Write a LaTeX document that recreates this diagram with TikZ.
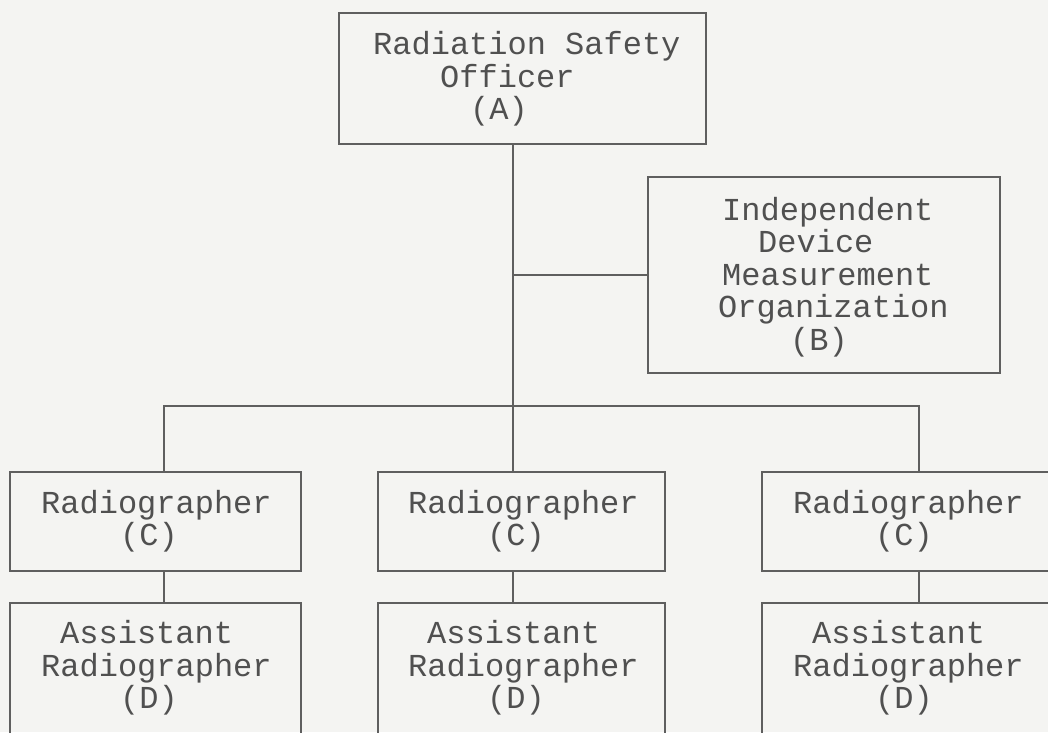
\documentclass[tikz,border=0pt]{standalone}
\usepackage{fontspec}
\setmonofont{Liberation Mono}
\definecolor{bgc}{RGB}{244,244,242}
\definecolor{linec}{RGB}{95,95,95}
\definecolor{textc}{RGB}{80,80,80}
\begin{document}
\begin{tikzpicture}[x=1pt,y=-1pt,
  box/.style={draw=linec, line width=1.2pt, rectangle, inner sep=0pt},
  txt/.style={font=\ttfamily\fontsize{32}{32.5}\selectfont, text=textc, align=left, inner sep=0pt, anchor=west},
  link/.style={draw=linec, line width=1.2pt}]
\fill[bgc] (0,0) rectangle (1048,732);
\useasboundingbox (0,0) rectangle (1048,732);
% boxes
\node[box, minimum width=367pt, minimum height=131pt] (A) at (522.5,78.5) {};
\node[box, minimum width=352pt, minimum height=196pt] (B) at (824,275) {};
\node[box, minimum width=291pt, minimum height=99pt] (C1) at (155.5,521.5) {};
\node[box, minimum width=287pt, minimum height=99pt] (C2) at (521.5,521.5) {};
\node[box, minimum width=291pt, minimum height=99pt] (C3) at (907.5,521.5) {};
\node[box, minimum width=291pt, minimum height=132pt] (D1) at (155.5,669) {};
\node[box, minimum width=287pt, minimum height=132pt] (D2) at (521.5,669) {};
\node[box, minimum width=291pt, minimum height=132pt] (D3) at (907.5,669) {};
% texts
\node[txt] (At) at (373,79) {Radiation Safety\\\hspace*{67pt}Officer\\\hspace*{97pt}(A)};
\node[txt] (Bt) at (718,277) {\hspace*{4pt}Independent\\\hspace*{40pt}Device\\\hspace*{4pt}Measurement\\Organization\\\hspace*{72pt}(B)};
\node[txt] (C1t) at (41,521) {Radiographer\\\hspace*{79pt}(C)};
\node[txt] (C2t) at (408,521) {Radiographer\\\hspace*{79pt}(C)};
\node[txt] (C3t) at (793,521) {Radiographer\\\hspace*{82pt}(C)};
\node[txt] (D1t) at (41,668) {\hspace*{19pt}Assistant\\Radiographer\\\hspace*{79pt}(D)};
\node[txt] (D2t) at (408,668) {\hspace*{19pt}Assistant\\Radiographer\\\hspace*{79pt}(D)};
\node[txt] (D3t) at (793,668) {\hspace*{19pt}Assistant\\Radiographer\\\hspace*{82pt}(D)};
% connector coordinates
\coordinate (sp) at (513,0);
\coordinate (xl) at (164,0);
\coordinate (xr) at (919,0);
\coordinate (bus) at (0,406);
% connectors
\draw[link] (A.south -| sp) -- (C2.north -| sp);
\draw[link] (sp |- B.west) -- (B.west);
\draw[link] (C1.north -| xl) -- (xl |- bus) -- (xr |- bus) -- (C3.north -| xr);
\draw[link] (C1.south -| xl) -- (D1.north -| xl);
\draw[link] (C2.south -| sp) -- (D2.north -| sp);
\draw[link] (C3.south -| xr) -- (D3.north -| xr);
\end{tikzpicture}
\end{document}
